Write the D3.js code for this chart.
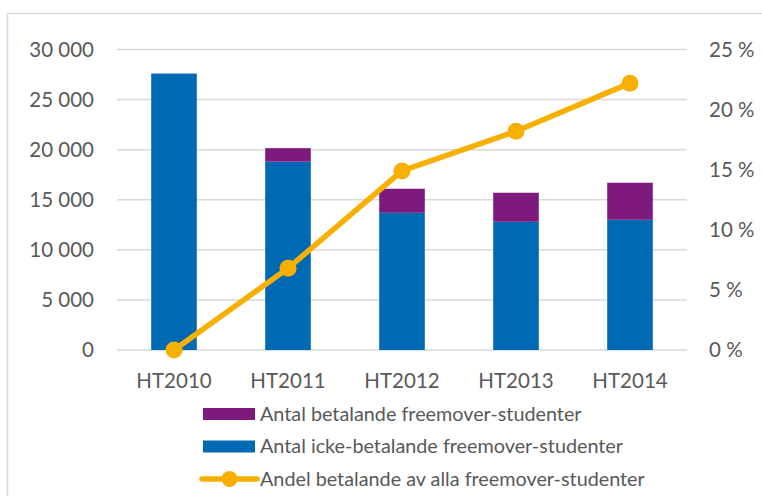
<!DOCTYPE html>
<html>
<head>
<meta charset="utf-8">
<script src="https://cdn.jsdelivr.net/npm/d3@7"></script>
<style>
  body { margin: 0; background: #fff; }
  .axis text { font-family: Lato, "Open Sans", sans-serif; font-size: 20.5px; fill: #595959; }
  .legend text { font-family: Lato, "Open Sans", sans-serif; font-size: 19.8px; fill: #595959; }
</style>
</head>
<body>
<div id="chart"></div>
<script>
var categories = ["HT2010", "HT2011", "HT2012", "HT2013", "HT2014"];
var nonPaying = [27600, 18800, 13700, 12800, 13000];
var paying = [0, 1350, 2400, 2900, 3700];
var share = [0.0, 0.068, 0.149, 0.182, 0.222];
var leftTicks = [0, 5000, 10000, 15000, 20000, 25000, 30000];
var rightTicks = [0, 0.05, 0.10, 0.15, 0.20, 0.25];
var seriesNames = ["Antal betalande freemover-studenter",
                   "Antal icke-betalande freemover-studenter",
                   "Andel betalande av alla freemover-studenter"];

var colors = { paying: "#7E197D", nonPaying: "#0069B3", share: "#F8B000" };

var W = 762, H = 496;
var margin = {top: 49.5, left: 117, right: 75, bottom: 146};
var plotW = W - margin.left - margin.right,
    plotH = H - margin.top - margin.bottom;

var svg = d3.select("#chart").append("svg")
    .attr("width", W)
    .attr("height", H);

// outer chart border
svg.append("rect")
    .attr("x", 7.5).attr("y", 13.5)
    .attr("width", W + 10).attr("height", H + 10)
    .attr("fill", "none")
    .attr("stroke", "#d9d9d9")
    .attr("stroke-width", 1.5);

var g = svg.append("g").attr("transform", "translate(" + margin.left + "," + margin.top + ")");

var x = d3.scaleBand().domain(categories).range([0, plotW]).paddingInner(0.6).paddingOuter(0.3);
var xc = function(d) { return x(d) + x.bandwidth() / 2; };
var yL = d3.scaleLinear().domain([0, 30000]).range([plotH, 0]);
var yR = d3.scaleLinear().domain([0, 0.25]).range([plotH, 0]);

var loc = d3.formatLocale({decimal: ",", thousands: " ", grouping: [3], currency: ["", " kr"]});
var fmtNum = loc.format(",d");
var fmtPct = function(v) { return Math.round(v * 100) + " %"; };

// gridlines
g.append("g").selectAll("line").data(leftTicks).enter().append("line")
    .attr("x1", 0).attr("x2", plotW)
    .attr("y1", function(d) { return yL(d); })
    .attr("y2", function(d) { return yL(d); })
    .attr("stroke", "#d9d9d9")
    .attr("stroke-width", 1.5);

// left axis
var axL = g.append("g").attr("class", "axis")
    .attr("transform", "translate(-23,0)")
    .call(d3.axisLeft(yL).tickValues(leftTicks).tickFormat(fmtNum).tickSize(0).tickPadding(0));
axL.select(".domain").remove();

// right axis
var axR = g.append("g").attr("class", "axis")
    .attr("transform", "translate(" + (plotW + 22) + ",0)")
    .call(d3.axisRight(yR).tickValues(rightTicks).tickFormat(fmtPct).tickSize(0).tickPadding(0));
axR.select(".domain").remove();

// bottom axis
var axB = g.append("g").attr("class", "axis")
    .attr("transform", "translate(0," + plotH + ")")
    .call(d3.axisBottom(x).tickSize(0).tickPadding(23));
axB.select(".domain").remove();

// stacked bars
var stackData = categories.map(function(c, i) { return {cat: c, nonPaying: nonPaying[i], paying: paying[i]}; });
var stack = d3.stack().keys(["nonPaying", "paying"])(stackData);

g.append("g").selectAll("g").data(stack).enter().append("g")
    .attr("fill", function(s) { return colors[s.key]; })
  .selectAll("rect").data(function(s) { return s; }).enter().append("rect")
    .attr("x", function(d) { return x(d.data.cat); })
    .attr("width", x.bandwidth())
    .attr("y", function(d) { return yL(d[1]); })
    .attr("height", function(d) { return yL(d[0]) - yL(d[1]); });

// share line
var line = d3.line()
    .x(function(d, i) { return xc(categories[i]); })
    .y(function(d) { return yR(d); });

g.append("path").datum(share)
    .attr("d", line)
    .attr("fill", "none")
    .attr("stroke", colors.share)
    .attr("stroke-width", 5.5)
    .attr("stroke-linejoin", "round");

g.append("g").selectAll("circle").data(share).enter().append("circle")
    .attr("cx", function(d, i) { return xc(categories[i]); })
    .attr("cy", function(d) { return yR(d); })
    .attr("r", 8.5)
    .attr("fill", colors.share);

// legend
var lg = svg.append("g").attr("class", "legend").attr("transform", "translate(202,414)");
var rowH = 32.5;

lg.append("rect").attr("x", 1).attr("y", -6).attr("width", 52).attr("height", 12).attr("fill", colors.paying);
lg.append("rect").attr("x", 1).attr("y", rowH - 6).attr("width", 52).attr("height", 12).attr("fill", colors.nonPaying);
lg.append("line").attr("x1", 0).attr("x2", 55).attr("y1", rowH * 2).attr("y2", rowH * 2)
    .attr("stroke", colors.share).attr("stroke-width", 5.5).attr("stroke-linecap", "round");
lg.append("circle").attr("cx", 27.5).attr("cy", rowH * 2).attr("r", 8).attr("fill", colors.share);

lg.selectAll("text").data(seriesNames).enter().append("text")
    .attr("x", 58)
    .attr("y", function(d, i) { return i * rowH; })
    .attr("dy", "0.35em")
    .text(function(d) { return d; });
</script>
</body>
</html>
